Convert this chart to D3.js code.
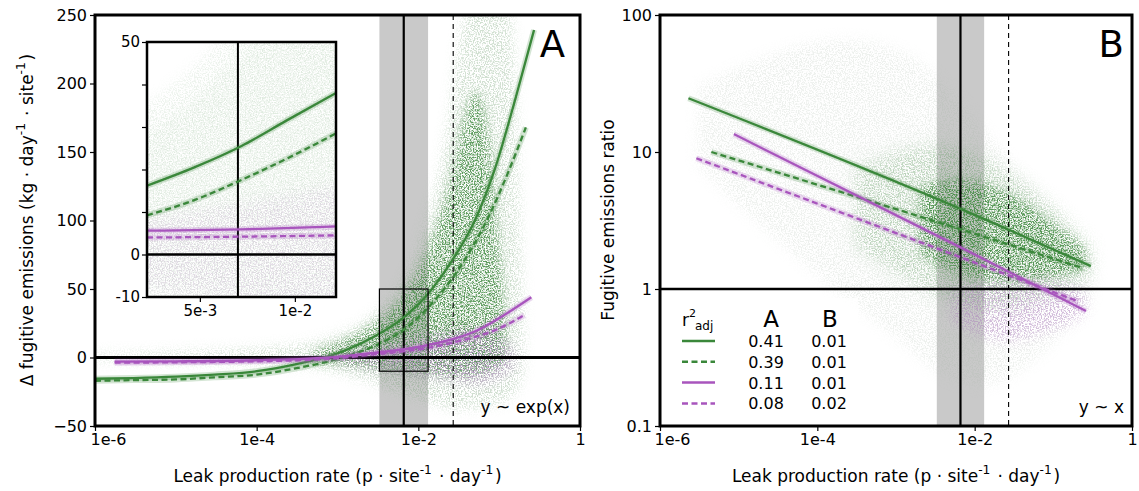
<!DOCTYPE html>
<html>
<head>
<meta charset="utf-8">
<script src="https://cdn.jsdelivr.net/npm/d3@7"></script>
<style>
  body { margin: 0; background: #fff; }
  text { font-family: "DejaVu Sans", sans-serif; fill: #000; }
</style>
</head>
<body>
<script>
// ---- data ----
const xTicks = [1e-6, 1e-4, 1e-2, 1];
const xTickLabels = ["1e-6", "1e-4", "1e-2", "1"];
const yTicksA = [-50, 0, 50, 100, 150, 200, 250];
const yTicksB = [0.1, 1, 10, 100];
const yTickLabelsB = ["0.1", "1", "10", "100"];
const insetXTicks = [5e-3, 1e-2];
const insetXTickLabels = ["5e-3", "1e-2"];
const insetYTicks = [-10, 0, 10, 20, 30, 40, 50];
const insetYLabeled = [-10, 0, 50];

const bandRange = [3.3e-3, 1.32e-2];   // grey band and zoom box
const insetXDomain = [3.4e-3, 1.35e-2];
const zoomBoxY = [-10, 50];
const refLine = 6.6e-3;                // solid vertical line
const dashedLine = 0.027;              // dashed vertical line

// panel A fits [x, y]
const greenSolidA = [[1e-6,-15.5],[3e-6,-15],[1e-5,-14],[3e-5,-12.5],[1e-4,-10],[3e-4,-5],[1e-3,3],[3e-3,16],[6.5e-3,29],[1.3e-2,46],[2.5e-2,69],[5e-2,100],[8.9e-2,138],[0.159,189],[0.27,239]];
const greenDashedA = [[1e-6,-17],[3e-6,-16.5],[1e-5,-16],[3e-5,-14.5],[1e-4,-12.5],[3e-4,-8],[1e-3,-1],[3e-3,9],[6.5e-3,20],[1.3e-2,36],[2.5e-2,56],[4.1e-2,75],[7.3e-2,102],[0.131,136],[0.214,168]];
const purpleSolidA = [[1.75e-6,-3],[1e-5,-2.8],[1e-4,-2],[1e-3,0.5],[3e-3,3.5],[6.5e-3,6],[1.3e-2,9],[2.5e-2,13],[5e-2,19],[0.108,30],[0.25,44]];
const purpleDashedA = [[1.75e-6,-3.8],[1e-5,-3.5],[1e-4,-2.8],[1e-3,-0.5],[3e-3,2.5],[6.5e-3,4.5],[1.3e-2,7],[2.5e-2,10.5],[5e-2,15],[8.9e-2,20],[0.205,31]];

// inset fits (as drawn in the inset)
const greenSolidInset = [[3.4e-3,16.2],[4.8e-3,20.5],[6.8e-3,25.6],[9.4e-3,31.5],[1.35e-2,38]];
const greenDashedInset = [[3.4e-3,9.2],[4.8e-3,12.8],[6.8e-3,17.6],[9.4e-3,22.5],[1.35e-2,28.5]];
const purpleSolidInset = [[3.4e-3,5.6],[6.8e-3,5.9],[1.35e-2,6.6]];
const purpleDashedInset = [[3.4e-3,4.0],[6.8e-3,4.2],[1.35e-2,4.5]];

// panel B fits [x, ratio]
const greenSolidB = [[2.3e-6,24.7],[7e-3,3.8],[0.3,1.47]];
const greenDashedB = [[4.5e-6,10],[7e-3,2.7],[0.24,1.42]];
const purpleSolidB = [[8.7e-6,13.5],[7e-3,1.98],[0.26,0.69]];
const purpleDashedB = [[2.9e-6,9.0],[1e-3,2.56],[0.21,0.81]];

// point clouds as envelopes [x, low, high]
const cloudGreenA = [[1e-6,-2,2],[1e-5,-3,4],[1e-4,-4,6],[5e-4,-7,10],[1e-3,-10,16],[2e-3,-16,24],[4e-3,-22,38],[8e-3,-28,60],[1.5e-2,-34,110],[2.6e-2,-38,180],[3.6e-2,-38,270],[0.1,-35,270],[0.15,-28,270],[0.18,-20,100],[0.2,-10,20]];
const cloudGreenCoreA = [[5e-4,-3,5],[1e-3,-5,10],[3e-3,-8,24],[7e-3,-10,45],[1.4e-2,-12,80],[2.6e-2,-14,130],[4e-2,-14,190],[6e-2,-12,200],[8e-2,-10,150],[0.1,-6,80],[0.12,-3,30]];
const cloudPurpleA = [[1e-3,-3,3],[3e-3,-8,8],[1e-2,-12,14],[3e-2,-18,22],[6e-2,-20,20],[0.1,-15,15],[0.15,-8,8]];
const cloudSparseB = [[3e-6,8,30],[1e-5,4,42],[5e-5,1.8,60],[2e-4,0.9,70],[1e-3,0.45,60],[3e-3,0.25,40],[1e-2,0.18,18],[3e-2,0.22,8],[0.1,0.4,4],[0.3,0.8,1.8]];
const cloudGreenMidB = [[3e-4,2,8],[1e-3,1.3,10],[3e-3,0.9,12],[1e-2,0.7,10],[3e-2,0.7,7],[0.1,0.9,4],[0.3,1.2,2]];
const cloudGreenCoreB = [[2e-3,1.8,5.5],[5e-3,1.3,6.5],[1.5e-2,1.1,6],[4e-2,1.1,4.5],[0.1,1.2,3],[0.25,1.4,2]];
const cloudPurpleB = [[5e-3,0.6,1],[1e-2,0.45,1.1],[3e-2,0.4,1.2],[0.1,0.5,1.2],[0.25,0.65,0.95]];

const r2A = ["0.41", "0.39", "0.11", "0.08"];
const r2B = ["0.01", "0.01", "0.01", "0.02"];

// ---- style ----
const GREEN = "#3a873a", PURPLE = "#a855bd", BAND = "#c9c9c9";
const W = 1139, H = 491;

const svg = d3.select("body").append("svg").attr("width", W).attr("height", H);
const defs = svg.append("defs");

// speckle filter to give the clouds a dotted look
function speckle(id, seed, blur) {
  const f = defs.append("filter").attr("id", id).attr("filterUnits", "userSpaceOnUse")
    .attr("x", 0).attr("y", 0).attr("width", W).attr("height", H);
  f.append("feGaussianBlur").attr("in", "SourceGraphic").attr("stdDeviation", blur).attr("result", "soft");
  f.append("feTurbulence").attr("type", "fractalNoise").attr("baseFrequency", 0.75)
    .attr("numOctaves", 2).attr("seed", seed).attr("result", "noise");
  f.append("feColorMatrix").attr("in", "noise").attr("type", "matrix")
    .attr("values", "0 0 0 0 0  0 0 0 0 0  0 0 0 0 0  6 0 0 0 -2.7").attr("result", "dots");
  f.append("feComposite").attr("in", "soft").attr("in2", "dots").attr("operator", "in");
}
speckle("speckA", 3, 6);
speckle("speckB", 11, 5);
speckle("speckC", 23, 8);

function clip(id, x0, y0, x1, y1) {
  defs.append("clipPath").attr("id", id).append("rect")
    .attr("x", x0).attr("y", y0).attr("width", x1 - x0).attr("height", y1 - y0);
}

// ---- scales ----
const A = {l: 95, r: 580, t: 15, b: 426};
const B = {l: 660, r: 1132, t: 15, b: 426};
const I = {l: 147, r: 336, t: 42, b: 297};
const xA = d3.scaleLog().domain([1e-6, 1]).range([A.l, A.r]);
const yA = d3.scaleLinear().domain([-50, 250]).range([A.b, A.t]);
const xB = d3.scaleLog().domain([1e-6, 1]).range([B.l, B.r]);
const yB = d3.scaleLog().domain([0.1, 100]).range([B.b, B.t]);
const xI = d3.scaleLog().domain(insetXDomain).range([I.l, I.r]);
const yI = d3.scaleLinear().domain([-10, 50]).range([I.b, I.t]);

clip("clipA", A.l, A.t, A.r, A.b);
clip("clipB", B.l, B.t, B.r, B.b);
clip("clipI", I.l, I.t, I.r, I.b);

function drawCloud(g, data, x, y, color, op, filt) {
  const area = d3.area().x(d => x(d[0])).y0(d => y(d[1])).y1(d => y(d[2])).curve(d3.curveBasis);
  g.append("path").datum(data).attr("d", area).attr("fill", color)
    .attr("fill-opacity", op).attr("filter", `url(#${filt})`);
}

function drawFit(g, data, x, y, color, dashed) {
  const line = d3.line().x(d => x(d[0])).y(d => y(d[1])).curve(d3.curveMonotoneX);
  g.append("path").datum(data).attr("d", line).attr("fill", "none")
    .attr("stroke", color).attr("stroke-opacity", 0.22).attr("stroke-width", 6);
  g.append("path").datum(data).attr("d", line).attr("fill", "none")
    .attr("stroke", color).attr("stroke-width", 2.3)
    .attr("stroke-dasharray", dashed ? "6,3.5" : null);
}

function styleAxis(g, size) {
  g.select(".domain").remove();
  g.selectAll(".tick line").attr("stroke", "#000").attr("stroke-width", 1.2);
  g.selectAll(".tick text").style("font-size", size + "px").style("font-family", "DejaVu Sans").attr("fill", "#000");
}

function vline(g, x, P, w, dash) {
  g.append("line").attr("x1", x).attr("x2", x).attr("y1", P.t).attr("y2", P.b)
    .attr("stroke", "#000").attr("stroke-width", w).attr("stroke-dasharray", dash);
}

// ================= panel A =================
const gA = svg.append("g");
const pA = gA.append("g").attr("clip-path", "url(#clipA)");

pA.append("rect").attr("x", xA(bandRange[0])).attr("y", A.t)
  .attr("width", xA(bandRange[1]) - xA(bandRange[0])).attr("height", A.b - A.t).attr("fill", BAND);

drawCloud(pA, cloudGreenA, xA, yA, "#6fa06f", 0.32, "speckA");
drawCloud(pA, cloudGreenCoreA, xA, yA, "#3f8a3f", 0.8, "speckB");
drawCloud(pA, cloudPurpleA, xA, yA, "#b27cc4", 0.55, "speckA");

vline(pA, xA(refLine), A, 2.2, null);
vline(pA, xA(dashedLine), A, 1.1, "5,4");
pA.append("line").attr("x1", A.l).attr("x2", A.r).attr("y1", yA(0)).attr("y2", yA(0))
  .attr("stroke", "#000").attr("stroke-width", 3);

drawFit(pA, greenSolidA, xA, yA, GREEN, false);
drawFit(pA, greenDashedA, xA, yA, GREEN, true);
drawFit(pA, purpleSolidA, xA, yA, PURPLE, false);
drawFit(pA, purpleDashedA, xA, yA, PURPLE, true);

// zoom box
pA.append("rect").attr("x", xA(bandRange[0])).attr("y", yA(zoomBoxY[1]))
  .attr("width", xA(bandRange[1]) - xA(bandRange[0])).attr("height", yA(zoomBoxY[0]) - yA(zoomBoxY[1]))
  .attr("fill", "none").attr("stroke", "#000").attr("stroke-width", 1.2);

// ---- inset ----
const gI = gA.append("g");
gI.append("rect").attr("x", I.l).attr("y", I.t).attr("width", I.r - I.l).attr("height", I.b - I.t).attr("fill", "#fff");
const pI = gI.append("g").attr("clip-path", "url(#clipI)");
drawCloud(pI, cloudGreenA, xI, yI, "#8db48d", 0.16, "speckA");
drawCloud(pI, cloudGreenCoreA, xI, yI, "#7aaa7a", 0.12, "speckB");
drawCloud(pI, cloudPurpleA, xI, yI, "#cfaeda", 0.3, "speckA");
vline(pI, xI(refLine), I, 2, null);
pI.append("line").attr("x1", I.l).attr("x2", I.r).attr("y1", yI(0)).attr("y2", yI(0))
  .attr("stroke", "#000").attr("stroke-width", 2.5);
drawFit(pI, greenSolidInset, xI, yI, GREEN, false);
drawFit(pI, greenDashedInset, xI, yI, GREEN, true);
drawFit(pI, purpleSolidInset, xI, yI, PURPLE, false);
drawFit(pI, purpleDashedInset, xI, yI, PURPLE, true);
gI.append("rect").attr("x", I.l).attr("y", I.t).attr("width", I.r - I.l).attr("height", I.b - I.t)
  .attr("fill", "none").attr("stroke", "#000").attr("stroke-width", 2.5);

gI.append("g").attr("transform", `translate(${I.l},0)`)
  .call(d3.axisLeft(yI).tickValues(insetYTicks).tickSize(5).tickPadding(2)
    .tickFormat(d => insetYLabeled.includes(d) ? d : ""))
  .call(g => styleAxis(g, 15));
gI.append("g").attr("transform", `translate(0,${I.b})`)
  .call(d3.axisBottom(xI).tickValues(insetXTicks).tickSize(5).tickPadding(3)
    .tickFormat((d, i) => insetXTickLabels[i]))
  .call(g => styleAxis(g, 15));

// frame + axes A
gA.append("rect").attr("x", A.l).attr("y", A.t).attr("width", A.r - A.l).attr("height", A.b - A.t)
  .attr("fill", "none").attr("stroke", "#000").attr("stroke-width", 3);
gA.append("g").attr("transform", `translate(${A.l},0)`)
  .call(d3.axisLeft(yA).tickValues(yTicksA).tickSize(5).tickPadding(3))
  .call(g => styleAxis(g, 16));
gA.append("g").attr("transform", `translate(0,${A.b})`)
  .call(d3.axisBottom(xA).tickValues(xTicks).tickSize(5).tickPadding(3).tickFormat((d, i) => xTickLabels[i]))
  .call(g => styleAxis(g, 16))
  .call(g => g.selectAll(".tick text").filter((d, i) => i === 0).attr("text-anchor", "start").attr("dx", -5));

gA.append("text").attr("x", 565).attr("y", 57).attr("text-anchor", "end")
  .style("font-size", "37px").text("A");
gA.append("text").attr("x", 570).attr("y", 413).attr("text-anchor", "end")
  .style("font-size", "17px").text("y ~ exp(x)");

// axis labels with superscripts
function supLabel(g, parts, size) {
  const t = g.append("text").style("font-size", size + "px");
  parts.forEach(p => {
    if (p.sup) {
      t.append("tspan").attr("dy", -size * 0.45).style("font-size", (size * 0.72) + "px").text(p.sup);
      t.append("tspan").attr("dy", size * 0.45).text("\u200A");
    } else t.append("tspan").text(p.t);
  });
  return t;
}
const xlabParts = [{t: "Leak production rate (p \u00b7 site"}, {sup: "-1"}, {t: " \u00b7 day"}, {sup: "-1"}, {t: ")"}];
supLabel(gA, xlabParts, 17).attr("x", (A.l + A.r) / 2).attr("y", 482).attr("text-anchor", "middle");

supLabel(gA, [{t: "\u0394 fugitive emissions (kg \u00b7 day"}, {sup: "-1"}, {t: " \u00b7 site"}, {sup: "-1"}, {t: ")"}], 17)
  .attr("text-anchor", "middle").attr("transform", "translate(33,220) rotate(-90)");

// ================= panel B =================
const gB = svg.append("g");
const pB = gB.append("g").attr("clip-path", "url(#clipB)");
pB.append("rect").attr("x", xB(bandRange[0])).attr("y", B.t)
  .attr("width", xB(bandRange[1]) - xB(bandRange[0])).attr("height", B.b - B.t).attr("fill", BAND);

drawCloud(pB, cloudSparseB, xB, yB, "#a2b2a2", 0.18, "speckA");
drawCloud(pB, cloudGreenMidB, xB, yB, "#5a975a", 0.35, "speckC");
drawCloud(pB, cloudGreenCoreB, xB, yB, "#3f8a3f", 0.85, "speckB");
drawCloud(pB, cloudPurpleB, xB, yB, "#b27cc4", 0.45, "speckA");

vline(pB, xB(refLine), B, 2.2, null);
vline(pB, xB(dashedLine), B, 1.1, "5,4");
pB.append("line").attr("x1", B.l).attr("x2", B.r).attr("y1", yB(1)).attr("y2", yB(1))
  .attr("stroke", "#000").attr("stroke-width", 2.5);

drawFit(pB, greenSolidB, xB, yB, GREEN, false);
drawFit(pB, greenDashedB, xB, yB, GREEN, true);
drawFit(pB, purpleSolidB, xB, yB, PURPLE, false);
drawFit(pB, purpleDashedB, xB, yB, PURPLE, true);

// legend
const lg = gB.append("g");
lg.append("rect").attr("x", 668).attr("y", 298).attr("width", 190).attr("height", 118)
  .attr("fill", "#fff").attr("fill-opacity", 0.8);
const r2 = lg.append("text").attr("x", 682).attr("y", 326).style("font-size", "17px");
r2.append("tspan").text("r");
r2.append("tspan").attr("dy", -9).style("font-size", "11px").text("2");
r2.append("tspan").attr("dy", 13).attr("dx", -1).style("font-size", "12px").text("adj");
lg.append("text").attr("x", 771).attr("y", 327).attr("text-anchor", "middle").style("font-size", "23px").text("A");
lg.append("text").attr("x", 830).attr("y", 327).attr("text-anchor", "middle").style("font-size", "23px").text("B");
const legColors = [GREEN, GREEN, PURPLE, PURPLE];
const legDash = [false, true, false, true];
r2A.forEach((v, i) => {
  const cy = 341 + i * 20.8;
  lg.append("line").attr("x1", 682).attr("x2", 715).attr("y1", cy).attr("y2", cy)
    .attr("stroke", legColors[i]).attr("stroke-width", 2.5)
    .attr("stroke-dasharray", legDash[i] ? "6,3.5" : null);
  lg.append("text").attr("x", 766).attr("y", cy + 6).attr("text-anchor", "middle").style("font-size", "16px").text(v);
  lg.append("text").attr("x", 829).attr("y", cy + 6).attr("text-anchor", "middle").style("font-size", "16px").text(r2B[i]);
});

gB.append("rect").attr("x", B.l).attr("y", B.t).attr("width", B.r - B.l).attr("height", B.b - B.t)
  .attr("fill", "none").attr("stroke", "#000").attr("stroke-width", 3);
gB.append("g").attr("transform", `translate(${B.l},0)`)
  .call(d3.axisLeft(yB).tickValues(yTicksB).tickSize(5).tickPadding(3).tickFormat((d, i) => yTickLabelsB[i]))
  .call(g => styleAxis(g, 16));
gB.append("g").attr("transform", `translate(0,${B.b})`)
  .call(d3.axisBottom(xB).tickValues(xTicks).tickSize(5).tickPadding(3).tickFormat((d, i) => xTickLabels[i]))
  .call(g => styleAxis(g, 16))
  .call(g => g.selectAll(".tick text").filter((d, i) => i === 0).attr("text-anchor", "start").attr("dx", -6));

gB.append("text").attr("x", 1124).attr("y", 57).attr("text-anchor", "end")
  .style("font-size", "37px").text("B");
gB.append("text").attr("x", 1124).attr("y", 413).attr("text-anchor", "end")
  .style("font-size", "17px").text("y ~ x");
supLabel(gB, xlabParts, 17).attr("x", (B.l + B.r) / 2).attr("y", 482).attr("text-anchor", "middle");
gB.append("text").attr("text-anchor", "middle").attr("transform", "translate(614,220) rotate(-90)")
  .style("font-size", "17px").text("Fugitive emissions ratio");
</script>
</body>
</html>
